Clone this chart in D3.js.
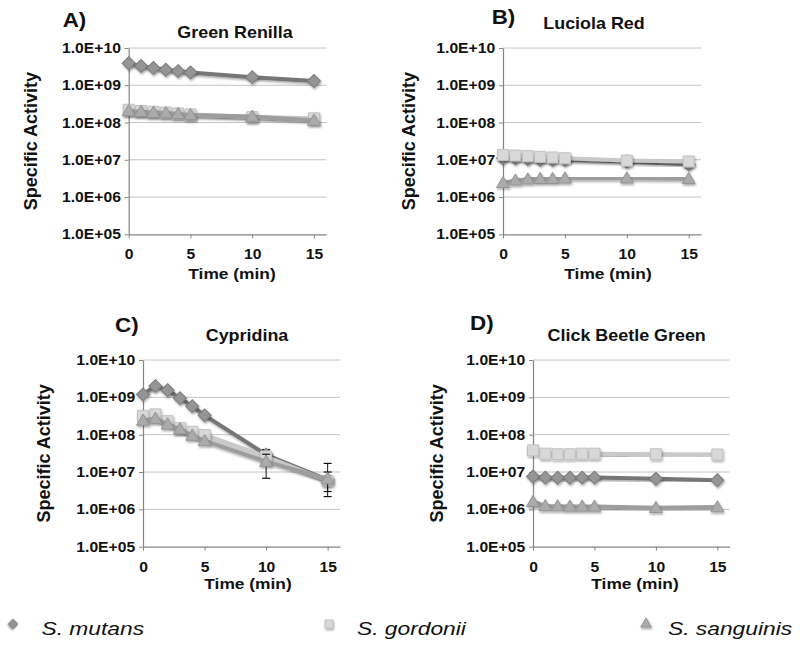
<!DOCTYPE html>
<html><head><meta charset="utf-8">
<script src="https://cdn.jsdelivr.net/npm/d3@7"></script>
<style>body{margin:0;background:#fff}</style></head>
<body><svg id="c" width="800" height="646"></svg>
<script>
// ---------- data ----------
const times = [0, 1, 2, 3, 4, 5, 10, 15];
const seriesNames = ["S. mutans", "S. gordonii", "S. sanguinis"];
const yTicks = [1e5, 1e6, 1e7, 1e8, 1e9, 1e10];
const yTickLabels = ["1.0E+05", "1.0E+06", "1.0E+07", "1.0E+08", "1.0E+09", "1.0E+10"];
const xTicks = [0, 5, 10, 15];
const panelLetters = ["A)", "B)", "C)", "D)"];
const panelTitles = ["Green Renilla", "Luciola Red", "Cypridina", "Click Beetle Green"];
const xAxisTitle = "Time (min)";
const yAxisTitle = "Specific Activity";

const renillaMutans    = [3.9e9, 3.3e9, 2.9e9, 2.6e9, 2.4e9, 2.2e9, 1.65e9, 1.3e9];
const renillaGordonii  = [2.2e8, 2.05e8, 1.95e8, 1.85e8, 1.75e8, 1.65e8, 1.4e8, 1.3e8];
const renillaSanguinis = [2.05e8, 1.95e8, 1.85e8, 1.8e8, 1.7e8, 1.6e8, 1.45e8, 1.13e8];

const lucMutans    = [1.1e7, 1.1e7, 1.05e7, 1.0e7, 1.0e7, 1.0e7, 9.0e6, 7.5e6];
const lucGordonii  = [1.35e7, 1.3e7, 1.25e7, 1.2e7, 1.15e7, 1.1e7, 9.5e6, 9.0e6];
const lucSanguinis = [2.4e6, 2.8e6, 3.0e6, 3.1e6, 3.1e6, 3.2e6, 3.2e6, 3.1e6];

const cypMutans    = [1.2e9, 2.0e9, 1.55e9, 9.5e8, 5.8e8, 3.3e8, 2.9e7, 6.2e6];
const cypGordonii  = [3.2e8, 3.5e8, 2.3e8, 1.5e8, 1.2e8, 9.8e7, 2.6e7, 5.8e6];
const cypSanguinis = [2.4e8, 2.7e8, 1.9e8, 1.4e8, 9.5e7, 6.8e7, 1.9e7, 6.5e6];
const cypMutansHi    = [null, null, null, null, null, null, 4.0e7, 1.0e7];
const cypMutansLo    = [null, null, null, null, null, null, 2.2e7, 3.0e6];
const cypGordoniiHi  = [null, null, null, null, null, null, 3.4e7, 8.0e6];
const cypGordoniiLo  = [null, null, null, null, null, null, 2.0e7, 4.5e6];
const cypSanguinisHi = [null, null, null, null, null, null, 3.0e7, 1.7e7];
const cypSanguinisLo = [null, null, null, null, null, null, 6.8e6, 2.2e6];

const cbgMutans    = [7.6e6, 7.1e6, 7.0e6, 7.0e6, 7.1e6, 7.1e6, 6.6e6, 6.0e6];
const cbgGordonii  = [3.8e7, 3.1e7, 3.0e7, 3.0e7, 3.1e7, 3.1e7, 3.0e7, 2.95e7];
const cbgSanguinis = [1.6e6, 1.23e6, 1.22e6, 1.2e6, 1.2e6, 1.2e6, 1.1e6, 1.15e6];

const panelValues = [
  [renillaMutans, renillaGordonii, renillaSanguinis],
  [lucMutans, lucGordonii, lucSanguinis],
  [cypMutans, cypGordonii, cypSanguinis],
  [cbgMutans, cbgGordonii, cbgSanguinis]
];
const panelErrors = [
  null, null,
  [[cypMutansLo, cypMutansHi], [cypGordoniiLo, cypGordoniiHi], [cypSanguinisLo, cypSanguinisHi]],
  null
];

// ---------- layout & style ----------
const FONT = "'Liberation Sans', Arial, Helvetica, sans-serif";
const SX = 1.12;
const layout = [
  {x0: 128.7, k: 12.35, top: 48, bottom: 234.3, letterX: 62.7, letterY: 27, titleX: 235, titleY: 38, ylabX: 37, timeX: 232, timeDY: 45},
  {x0: 503,   k: 12.38, top: 48, bottom: 234.3, letterX: 491.7, letterY: 23.5, titleX: 594, titleY: 28.5, ylabX: 415, timeX: 608, timeDY: 45},
  {x0: 143,   k: 12.31, top: 360, bottom: 546.7, letterX: 115, letterY: 331.5, titleX: 247, titleY: 340.5, ylabX: 50, timeX: 248, timeDY: 42.5},
  {x0: 533,   k: 12.29, top: 360, bottom: 546.7, letterX: 470, letterY: 330, titleX: 626.7, titleY: 340.5, ylabX: 443, timeX: 635, timeDY: 42}
];
const styles = [
  {line: "#767676", fill: "#959595", stroke: "#7c7c7c", shape: "diamond"},
  {line: "#c9c9c9", fill: "#d8d8d8", stroke: "#c2c2c2", shape: "square"},
  {line: "#9d9d9d", fill: "#ababab", stroke: "#959595", shape: "triangle"}
];

const svg = d3.select("#c");
const defs = svg.append("defs");
defs.append("filter").attr("id", "sh").attr("x", "-20%").attr("y", "-20%").attr("width", "140%").attr("height", "160%")
  .append("feDropShadow").attr("dx", 0.8).attr("dy", 1.6).attr("stdDeviation", 1.2)
  .attr("flood-color", "#000").attr("flood-opacity", 0.35);

function stext(g, x, y, str, size, opts = {}) {
  return g.append("text")
    .attr("transform", `translate(${x},${y}) scale(${opts.sx || SX},1)`)
    .attr("text-anchor", opts.anchor || "start")
    .attr("font-family", FONT)
    .attr("font-size", size)
    .attr("font-weight", opts.weight || "bold")
    .attr("font-style", opts.style || "normal")
    .attr("fill", opts.fill || "#111")
    .text(str);
}

function markerPath(shape, big) {
  if (shape === "diamond") return d3.symbol(d3.symbolSquare, big ? 84 : 42)();
  if (shape === "square") return d3.symbol(d3.symbolSquare, big ? 120 : 64)();
  return d3.symbol(d3.symbolTriangle, big ? 72 : 48)();
}

panelValues.forEach((vals, p) => {
  const L = layout[p];
  const g = svg.append("g");
  const x = d3.scaleLinear().domain([0, 16]).range([L.x0, L.x0 + 16 * L.k]);
  const y = d3.scaleLog().domain([1e5, 1e10]).range([L.bottom, L.top]);

  // gridlines
  g.append("g").selectAll("line").data(yTicks.slice(1)).join("line")
    .attr("x1", x(0)).attr("x2", x(16))
    .attr("y1", d => y(d)).attr("y2", d => y(d))
    .attr("stroke", "#c4c4c4").attr("stroke-width", 1);

  // axes
  const xa = g.append("g").attr("transform", `translate(0,${L.bottom})`)
    .call(d3.axisBottom(x).tickValues(xTicks).tickSize(4).tickSizeOuter(0).tickPadding(11));
  const ya = g.append("g").attr("transform", `translate(${L.x0},0)`)
    .call(d3.axisLeft(y).tickValues(yTicks).tickFormat((d, i) => yTickLabels[i]).tickSize(4).tickSizeOuter(0).tickPadding(3));
  [xa, ya].forEach(a => {
    a.select(".domain").attr("stroke", "#858585").attr("stroke-width", 1.2);
    a.selectAll(".tick line").attr("stroke", "#858585");
    a.selectAll("text").attr("font-family", FONT).attr("font-size", 14).attr("font-weight", "bold")
      .attr("fill", "#111").attr("transform", `scale(${SX},1)`);
  });
  xa.selectAll("text").attr("x", 0);

  // series
  vals.forEach((arr, s) => {
    const st = styles[s];
    const pts = times.map((t, i) => ({t, v: arr[i], i}));
    const sg = g.append("g").attr("filter", "url(#sh)");
    sg.append("path").datum(pts)
      .attr("d", d3.line().x(d => x(d.t)).y(d => y(d.v)))
      .attr("fill", "none").attr("stroke", st.line).attr("stroke-width", 4).attr("stroke-linejoin", "round");
    const err = panelErrors[p] ? panelErrors[p][s] : null;
    if (err) {
      const eg = g.append("g");
      pts.filter(d => err[0][d.i] != null).forEach(d => {
        const cx = x(d.t), lo = y(err[0][d.i]), hi = y(err[1][d.i]);
        eg.append("line").attr("x1", cx).attr("x2", cx).attr("y1", lo).attr("y2", hi).attr("stroke", "#111").attr("stroke-width", 1);
        [lo, hi].forEach(yy => eg.append("line").attr("x1", cx - 4).attr("x2", cx + 4).attr("y1", yy).attr("y2", yy).attr("stroke", "#111").attr("stroke-width", 1.2));
      });
    }
    const mg = g.append("g").attr("filter", "url(#sh)");
    mg.selectAll("path").data(pts).join("path")
      .attr("d", markerPath(st.shape, true))
      .attr("transform", d => `translate(${x(d.t)},${y(d.v) + (st.shape === "triangle" ? 1 : 0)})` + (st.shape === "diamond" ? " rotate(45)" : ""))
      .attr("fill", st.fill).attr("stroke", st.stroke).attr("stroke-width", 1);
  });

  // texts
  stext(g, L.letterX, L.letterY, panelLetters[p], 20, {sx: SX});
  stext(g, L.titleX, L.titleY, panelTitles[p], 16, {anchor: "middle"});
  stext(g, L.timeX, L.bottom + L.timeDY, xAxisTitle, 15.5, {anchor: "middle"});
  g.append("text")
    .attr("transform", `translate(${L.ylabX},${(L.top + L.bottom) / 2}) rotate(-90)`)
    .attr("text-anchor", "middle").attr("font-family", FONT).attr("font-size", 18)
    .attr("font-weight", "bold").attr("fill", "#111").text(yAxisTitle);
});

// legend
const legendPos = [{mx: 13, tx: 41.5}, {mx: 329, tx: 357}, {mx: 646, tx: 668}];
const lg = svg.append("g");
seriesNames.forEach((name, s) => {
  const st = styles[s], P = legendPos[s];
  lg.append("path").attr("d", markerPath(st.shape, false))
    .attr("transform", `translate(${P.mx},624)` + (st.shape === "diamond" ? " rotate(45)" : ""))
    .attr("fill", st.fill).attr("stroke", st.stroke).attr("filter", "url(#sh)");
  stext(lg, P.tx, 634.5, name, 19, {sx: 1.2, weight: "normal", style: "italic"});
});
</script>
</body></html>
